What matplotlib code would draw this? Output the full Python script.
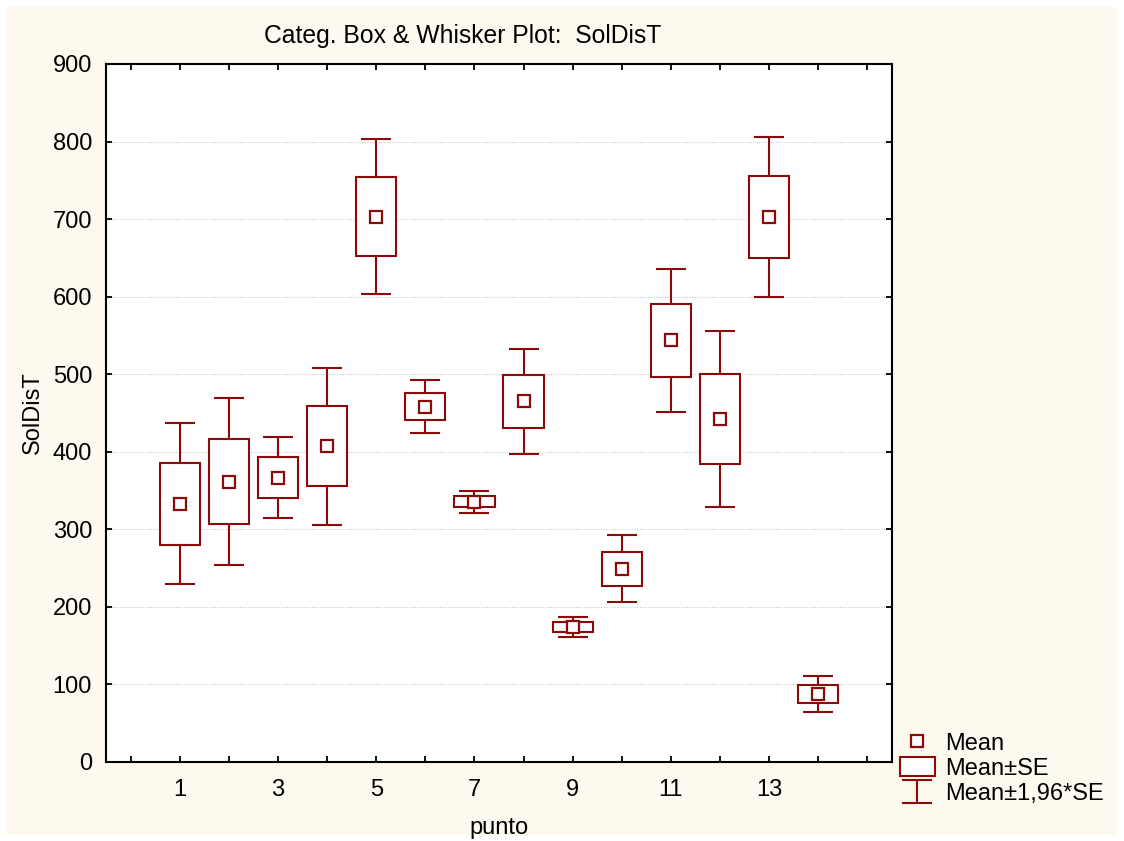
import matplotlib
matplotlib.use('Agg')
import matplotlib.pyplot as plt
from matplotlib.patches import Rectangle
import numpy as np

plt.rcParams['font.family'] = ['Liberation Sans', 'DejaVu Sans']

# SolDisT per sampling point: mean and standard error
punto = [1, 2, 3, 4, 5, 6, 7, 8, 9, 10, 11, 12, 13, 14]
means = [333, 361.5, 366.5, 407, 703, 458, 335.5, 465, 174.5, 249, 544, 442, 702.5, 87.5]
se = [53, 55, 26.5, 51.5, 51, 17.5, 7.3, 34.5, 6.5, 22, 47, 58, 52.5, 11.7]

means = np.array(means)
se = np.array(se)
col = '#8b0a0a'
fs = 17

fig = plt.figure(figsize=(11.24, 8.41), dpi=100)
fig.patch.set_facecolor('white')
fig.patches.append(Rectangle((7 / 1124, 6 / 841), 1110 / 1124, 828 / 841,
                             transform=fig.transFigure, facecolor='#fdf9ee',
                             edgecolor='none', zorder=-10))

ax = fig.add_axes([106 / 1124, 1 - 762 / 841, 786 / 1124, 698 / 841])
ax.set_facecolor('white')

# whiskers (mean +/- 1.96*SE), boxes (mean +/- SE), mean markers
eb = ax.errorbar(punto, means, yerr=1.96 * se, fmt='none', ecolor=col,
                 elinewidth=1.5, capsize=10.5, capthick=1.5, zorder=2)
bars = ax.bar(punto, 2 * se, bottom=means - se, width=0.82, facecolor='white',
              edgecolor=col, linewidth=1.5, zorder=3)
mk, = ax.plot(punto, means, 's', ms=8, mfc='white', mec=col, mew=1.6,
              ls='none', zorder=4)

ax.set_xlim(-0.5, 15.5)
ax.set_ylim(0, 900)
ax.set_xticks(range(0, 16))
ax.set_xticklabels([str(i) if i % 2 == 1 and i <= 13 else '' for i in range(16)])
ax.set_yticks(range(0, 901, 100))
ax.yaxis.grid(True, linestyle=(0, (1, 1.5)), color='#c8c8c8', linewidth=0.8)
ax.set_axisbelow(True)

ax.tick_params(axis='both', direction='in', length=4, width=1.3,
               top=True, right=True, labelsize=fs, colors='black')
ax.tick_params(axis='x', pad=12)
ax.tick_params(axis='y', pad=10)
for s in ax.spines.values():
    s.set_linewidth(1.5)
    s.set_color('black')

ax.set_xlabel('punto', fontsize=fs, labelpad=12)
ax.set_ylabel('SolDisT', fontsize=fs, labelpad=6)
fig.text(463 / 1124, 1 - 36 / 841, 'Categ. Box & Whisker Plot:  SolDisT',
         ha='center', va='center', fontsize=17.8)

fig.legend([mk, bars, eb], ['Mean', 'Mean±SE', 'Mean±1,96*SE'],
           loc='lower left', bbox_to_anchor=(883 / 1124, 1 - 822 / 841),
           frameon=False, fontsize=fs, handlelength=1.5, handleheight=0.85,
           handletextpad=0.45, labelspacing=0.12, borderpad=0.2)

fig.savefig('out.png', dpi=100, facecolor=fig.get_facecolor())
